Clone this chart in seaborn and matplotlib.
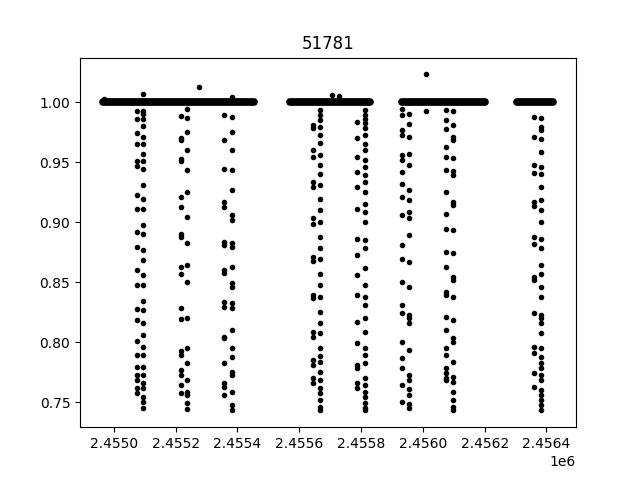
import numpy as np
import matplotlib
matplotlib.use('Agg')
import matplotlib.pyplot as plt
import seaborn as sns

# observing windows (out-of-eclipse flux sits at 1.0)
win_start = [2454963.7, 2455568.9, 2455933.9, 2456303.4]
win_end = [2455454.5, 2455828.2, 2456201.0, 2456422.7]

# eclipse pairs: time of left and right sub-column
ecl_t_left = [2455075.5, 2455216.0, 2455357.5, 2455645.0, 2455788.6, 2455933.6, 2456074.0, 2456361.0]
ecl_t_right = [2455094.0, 2455237.6, 2455382.5, 2455666.8, 2455812.6, 2455955.3, 2456099.0, 2456384.0]

ecl_f_left = [
    [0.9928, 0.9864, 0.9744, 0.9656, 0.9511, 0.9467, 0.9225, 0.9114, 0.8919, 0.8794, 0.860,
     0.8475, 0.8272, 0.8183, 0.8011, 0.7892, 0.7794, 0.7725, 0.7683, 0.7619, 0.7572],
    [0.9883, 0.9706, 0.9683, 0.9531, 0.9508, 0.9211, 0.9128, 0.890, 0.8878, 0.8628, 0.8572,
     0.8281, 0.8189, 0.7928, 0.7892, 0.7767, 0.7725, 0.7642, 0.7572],
    [0.9892, 0.9689, 0.9447, 0.9169, 0.9128, 0.8836, 0.8808, 0.860, 0.8578, 0.8336, 0.8294,
     0.8044, 0.8031, 0.7822, 0.7656, 0.7628, 0.7558],
    [0.9814, 0.9786, 0.960, 0.9544, 0.9336, 0.9294, 0.9031, 0.8981, 0.8711, 0.8675, 0.8392,
     0.8364, 0.8086, 0.8044, 0.785, 0.7808, 0.7697, 0.7656],
    [0.9836, 0.9703, 0.9544, 0.9419, 0.9294, 0.9114, 0.8864, 0.8725, 0.8558, 0.8392, 0.8169,
     0.7989, 0.7808, 0.7781, 0.7656, 0.7614],
    [0.9947, 0.9892, 0.9767, 0.9725, 0.9558, 0.9517, 0.9419, 0.9322, 0.9211, 0.9058, 0.8808,
     0.8697, 0.8503, 0.8308, 0.8239, 0.8003, 0.7869, 0.7781, 0.7642, 0.750],
    [0.9933, 0.985, 0.9781, 0.9628, 0.9544, 0.9433, 0.9253, 0.9072, 0.8947, 0.8753, 0.8628,
     0.8419, 0.8392, 0.8211, 0.810, 0.7947, 0.7892, 0.7781, 0.7739, 0.7697, 0.7683],
    [0.9878, 0.9711, 0.9475, 0.9414, 0.9169, 0.9136, 0.8878, 0.8822, 0.8544, 0.8517, 0.8239,
     0.7961, 0.7906, 0.7739, 0.7628],
]
ecl_f_right = [
    [1.0067, 0.9928, 0.990, 0.9858, 0.980, 0.9711, 0.9656, 0.9567, 0.9511, 0.9447, 0.9308,
     0.9197, 0.9114, 0.8975, 0.890, 0.8772, 0.8683, 0.8558, 0.8475, 0.8344, 0.8267, 0.8156,
     0.8058, 0.7961, 0.7892, 0.7794, 0.7725, 0.7656, 0.7614, 0.7544, 0.7503, 0.7447],
    [0.9947, 0.9872, 0.9753, 0.9606, 0.9433, 0.9253, 0.9044, 0.8828, 0.8642, 0.8503, 0.8197,
     0.7947, 0.7828, 0.7683, 0.7586, 0.7558, 0.7489, 0.7439],
    [1.0045, 0.9878, 0.9753, 0.960, 0.9433, 0.9267, 0.9058, 0.9017, 0.8828, 0.8794, 0.8628,
     0.8494, 0.8461, 0.8322, 0.8281, 0.810, 0.7947, 0.7878, 0.7753, 0.7725, 0.7586, 0.7475,
     0.7433],
    [0.9933, 0.9892, 0.985, 0.9794, 0.9725, 0.9664, 0.9558, 0.9475, 0.9406, 0.9314, 0.9197,
     0.910, 0.9003, 0.8878, 0.8781, 0.8697, 0.8572, 0.8475, 0.8378, 0.8253, 0.8156, 0.8072,
     0.7947, 0.7886, 0.7836, 0.7753, 0.7683, 0.7614, 0.7572, 0.7517, 0.7461, 0.7432],
    [0.9933, 0.9892, 0.9864, 0.9831, 0.9786, 0.9725, 0.9656, 0.960, 0.9517, 0.9461, 0.9392,
     0.9336, 0.9253, 0.9156, 0.9086, 0.9003, 0.885, 0.8781, 0.8614, 0.8475, 0.8378, 0.8308,
     0.8197, 0.8086, 0.7947, 0.7892, 0.7822, 0.7697, 0.7642, 0.7586, 0.7544, 0.7489, 0.7447,
     0.743],
    [0.9906, 0.9822, 0.9711, 0.9572, 0.9475, 0.9267, 0.9183, 0.9086, 0.9036, 0.8892, 0.8664,
     0.8461, 0.8225, 0.8197, 0.8156, 0.7933, 0.7725, 0.7683, 0.7608, 0.7558, 0.748, 0.745],
    [0.9925, 0.9808, 0.9711, 0.9683, 0.9536, 0.9425, 0.9392, 0.9169, 0.9142, 0.8933, 0.8739,
     0.8544, 0.8517, 0.8378, 0.8183, 0.8031, 0.8003, 0.7836, 0.7711, 0.7669, 0.7586, 0.7517,
     0.7461, 0.7433],
    [0.9869, 0.9794, 0.9767, 0.9697, 0.9586, 0.9461, 0.9406, 0.9294, 0.9183, 0.910, 0.9003,
     0.8864, 0.8781, 0.8642, 0.8572, 0.8461, 0.8378, 0.8225, 0.8197, 0.8156, 0.8072, 0.7947,
     0.7878, 0.7822, 0.7781, 0.7725, 0.7683, 0.760, 0.7558, 0.7517, 0.7475, 0.7433],
]

# stray points off the baseline
extra_t = [2455275.5, 2456011.0, 2455706.7, 2455729.0, 2456010.0, 2454970.0]
extra_f = [1.0125, 1.0233, 1.006, 1.005, 0.993, 1.003]

#%% assemble point lists
pt_t, pt_f = [], []
for tl, tr, fl, fr in zip(ecl_t_left, ecl_t_right, ecl_f_left, ecl_f_right):
    pt_t += [tl] * len(fl) + [tr] * len(fr)
    pt_f += fl + fr
pt_t += extra_t
pt_f += extra_f

#%% plot
fig, ax = plt.subplots(figsize=(6.4, 4.8), dpi=100)

# baseline: dense long-cadence points merge into a solid band
for s, e in zip(win_start, win_end):
    sns.lineplot(x=[s, e], y=[1.0, 1.0], ax=ax, color='k', lw=5.6,
                 solid_capstyle='round', estimator=None, sort=False)

sns.scatterplot(x=np.array(pt_t), y=np.array(pt_f), ax=ax, color='k', s=9,
                marker='o', edgecolor='k', linewidth=1)

ax.set_title('51781')
ax.set_xlabel('')
ax.set_ylabel('')
fig.savefig('out.png', dpi=100)
